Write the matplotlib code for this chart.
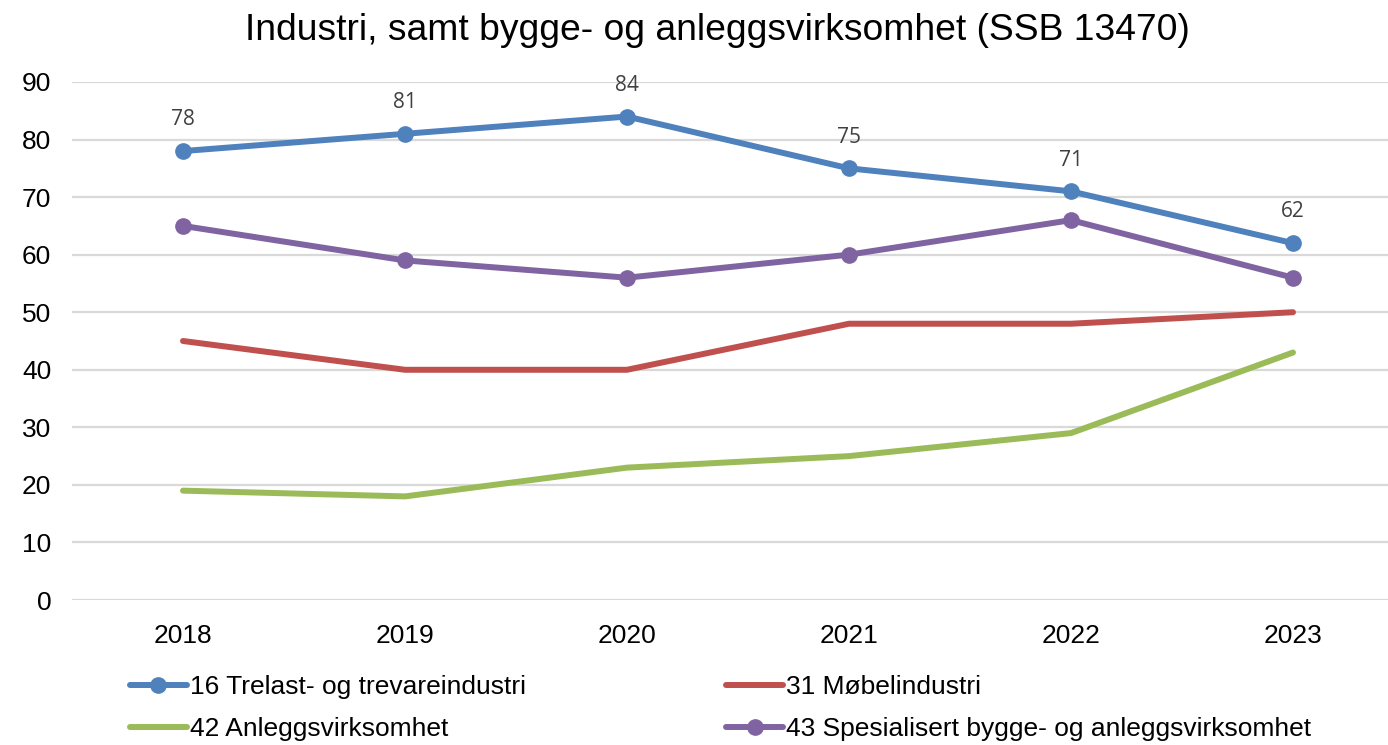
import matplotlib
matplotlib.use("Agg")
import matplotlib.pyplot as plt

years = ["2018", "2019", "2020", "2021", "2022", "2023"]
trelast = [78, 81, 84, 75, 71, 62]
mobel = [45, 40, 40, 48, 48, 50]
anlegg = [19, 18, 23, 25, 29, 43]
spesial = [65, 59, 56, 60, 66, 56]
names = ["16 Trelast- og trevareindustri", "31 Møbelindustri",
         "42 Anleggsvirksomhet", "43 Spesialisert bygge- og anleggsvirksomhet"]
title = "Industri, samt bygge- og anleggsvirksomhet (SSB 13470)"

plt.rcParams['font.family'] = ['Liberation Sans', 'DejaVu Sans']

W, H = 1388, 745
fig = plt.figure(figsize=(W/100, H/100), dpi=100)
ax = fig.add_axes([72/W, 1-600/H, (1388-72)/W, (600-82)/H])

x = list(range(len(years)))
blue, red, green, purple = "#4F81BD", "#C0504D", "#9BBB59", "#8064A2"
lw = 4.3
ms = 11
l1, = ax.plot(x, trelast, color=blue, lw=lw, marker="o", ms=ms, solid_capstyle="round", zorder=4)
l2, = ax.plot(x, mobel, color=red, lw=lw, solid_capstyle="round", zorder=3)
l3, = ax.plot(x, anlegg, color=green, lw=lw, solid_capstyle="round", zorder=3)
l4, = ax.plot(x, spesial, color=purple, lw=lw, marker="o", ms=ms, solid_capstyle="round", zorder=4)

for xi, v in zip(x, trelast):
    ax.annotate(str(v), (xi, v), xytext=(0, 22.5), textcoords="offset points",
                ha="center", va="center", fontsize=15, color="#404040",
                family=["Open Sans", "DejaVu Sans"])

ax.set_ylim(0, 90)
ax.set_xlim(-0.5, (1388-183)/222)
ax.set_yticks(range(0, 91, 10))
ax.set_xticks(x)
ax.set_xticklabels(years)
ax.yaxis.grid(True, color="#D9D9D9", lw=1.6)
ax.set_axisbelow(True)
for s in ax.spines.values():
    s.set_visible(False)
ax.tick_params(length=0, labelsize=19, colors="black")
ax.tick_params(axis="x", pad=17)
ax.tick_params(axis="y", pad=15)

fig.text(717/W, 1-30/H, title, ha="center", va="center", fontsize=26.8)

leg = fig.legend([l1, l3, l2, l4], [names[0], names[2], names[1], names[3]],
                 ncol=2, loc="upper left", bbox_to_anchor=(130/W, 1-675/H),
                 frameon=False, fontsize=19, handlelength=2.15, handletextpad=0.12,
                 columnspacing=7.6, labelspacing=0.7, borderaxespad=0, borderpad=0)

fig.savefig("out.png", dpi=100)
